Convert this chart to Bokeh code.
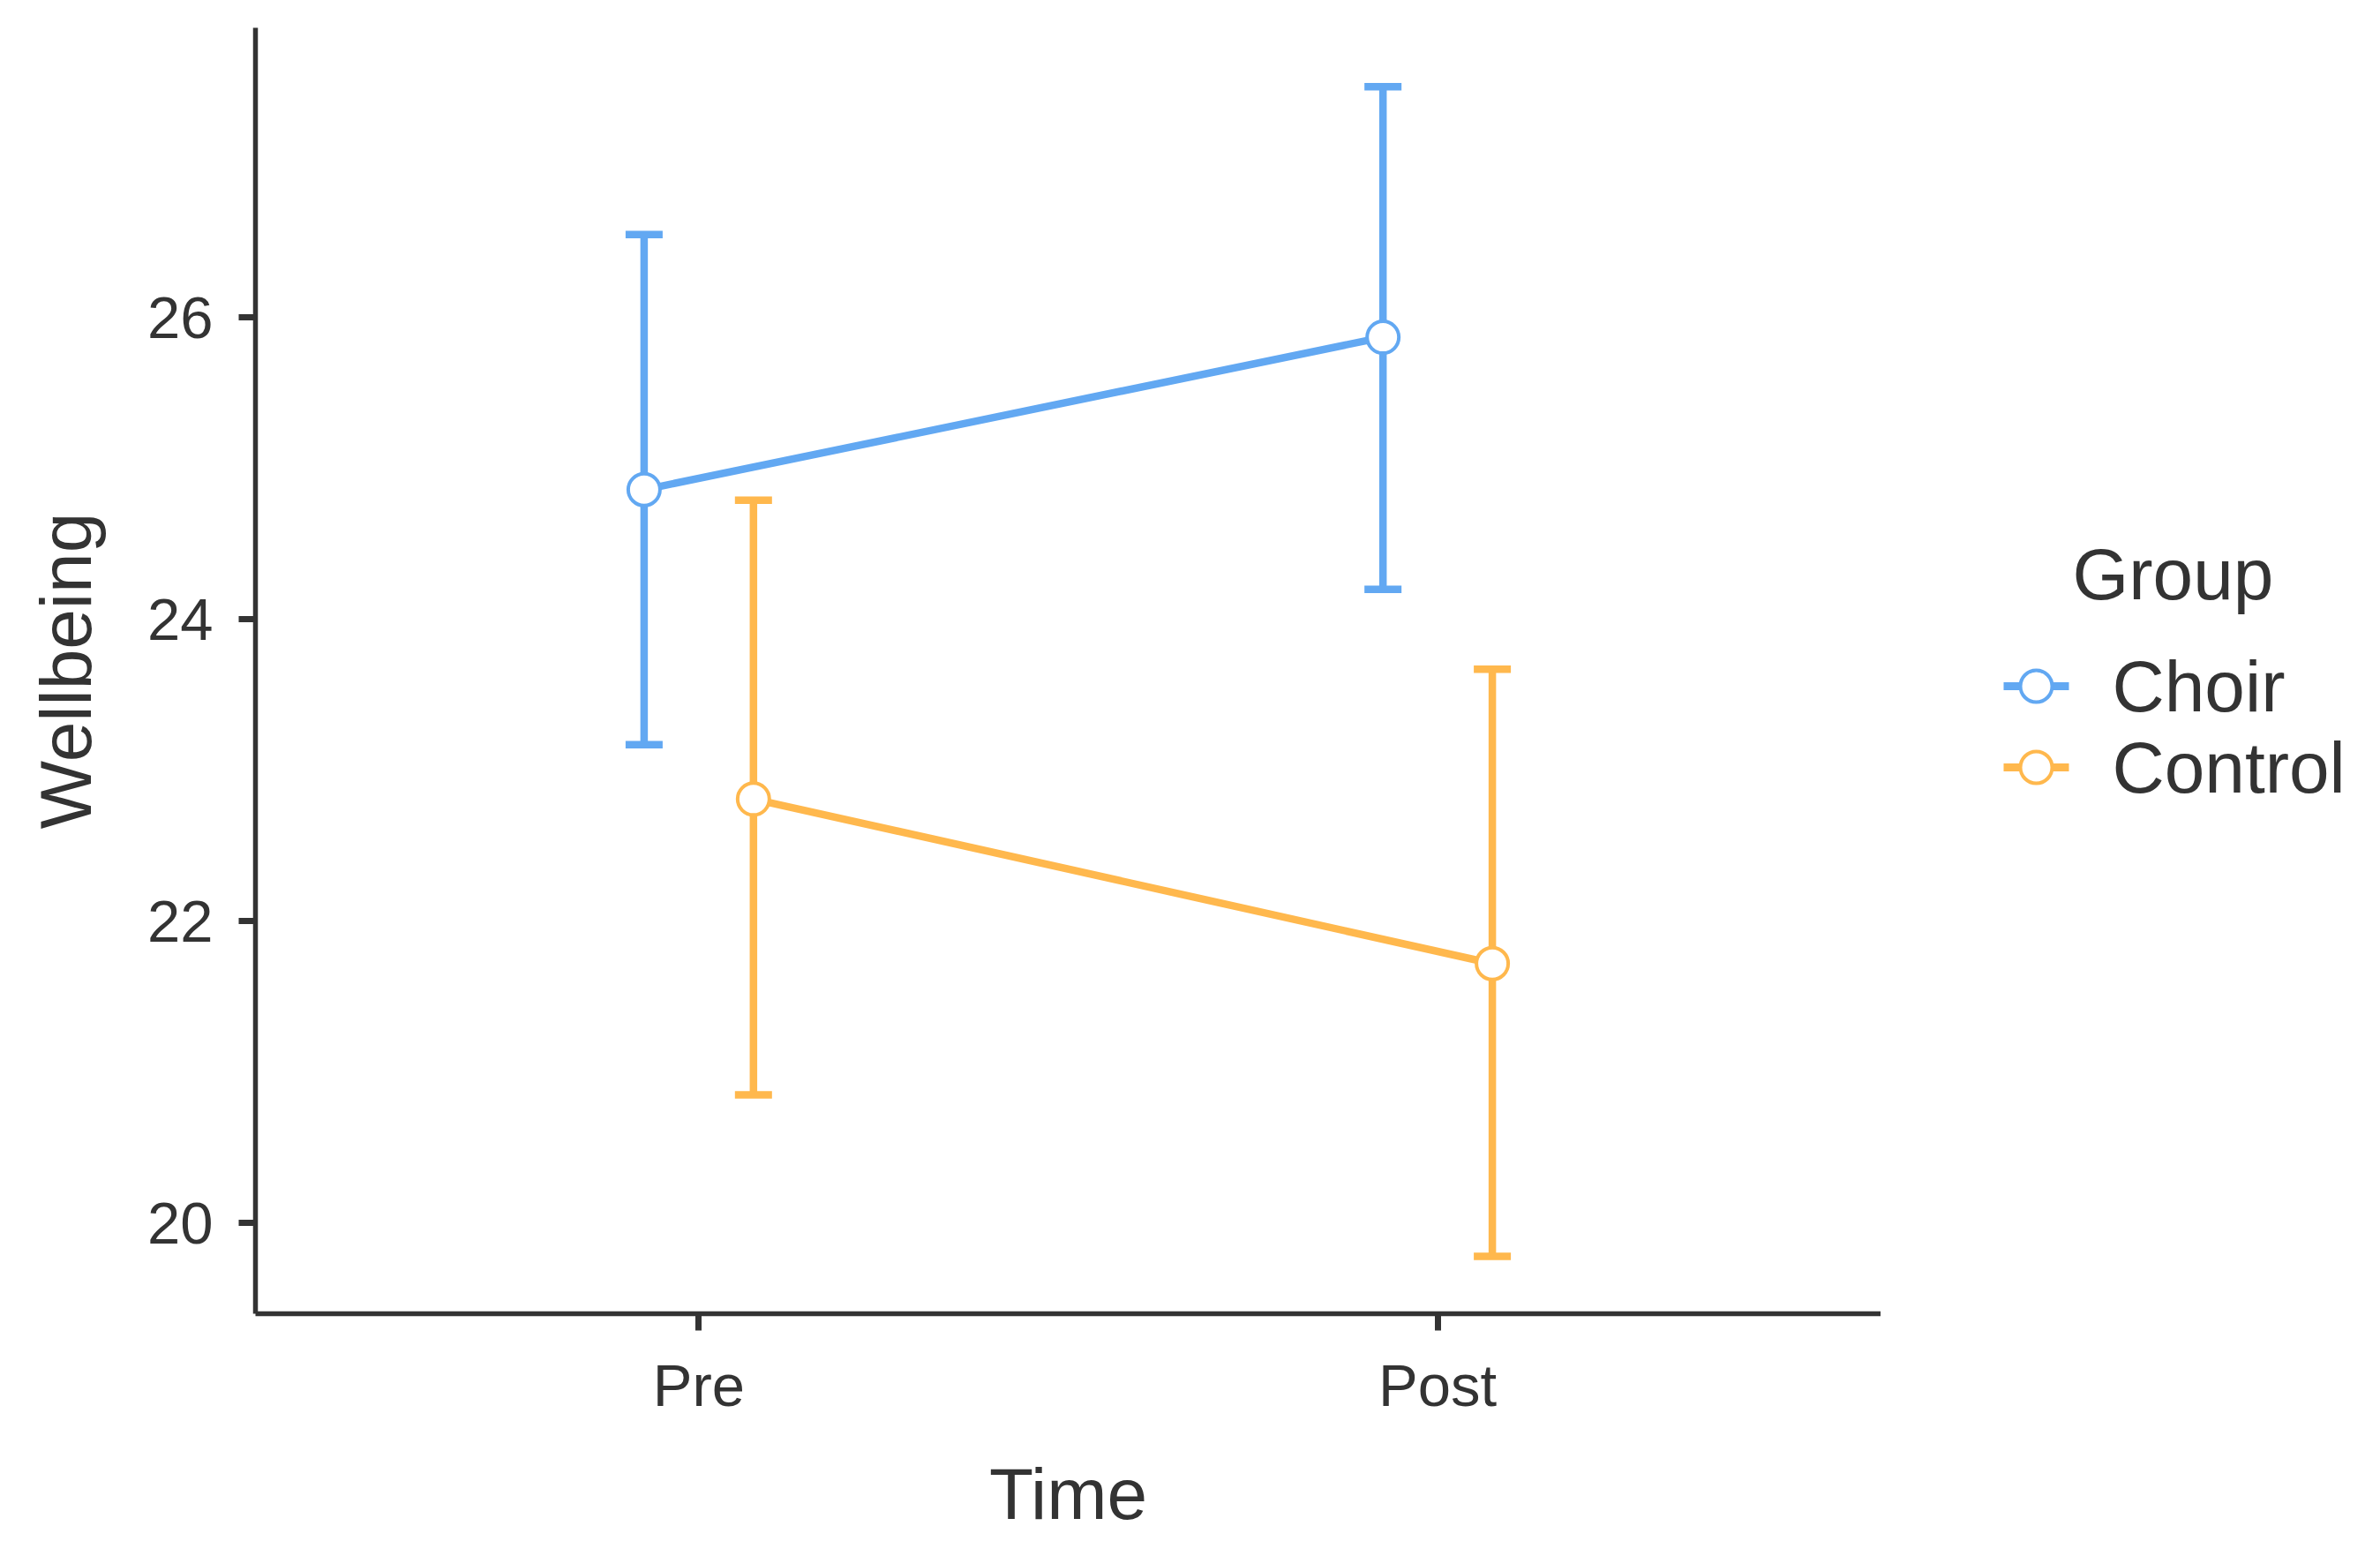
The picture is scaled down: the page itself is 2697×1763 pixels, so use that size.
from bokeh.plotting import figure
from bokeh.layouts import row
from bokeh.models import (Range1d, FixedTicker, Whisker, TeeHead, ColumnDataSource)
from bokeh.core.properties import value
from bokeh.embed import file_html
from bokeh.resources import INLINE

# ---- data ----
time_labels = ["Pre", "Post"]
time_pos = [1, 2]
groups = ["Choir", "Control"]
choir_mean = [24.86, 25.87]
choir_lower = [23.17, 24.20]
choir_upper = [26.55, 27.53]
control_mean = [22.81, 21.72]
control_lower = [20.85, 19.78]
control_upper = [24.79, 23.67]
y_ticks = [20, 22, 24, 26]
x_title = "Time"
y_title = "Wellbeing"
legend_title = "Group"

# ---- style ----
colors = {"Choir": "#62A8F2", "Control": "#FFB84D"}
dodge = {"Choir": -0.074, "Control": 0.074}
FONT = "Liberation Sans"
TXT = "#333333"
LW = 8.5

H = 1750
FL, FT = 289, 31
FW, FH = 1842, 1457
W = FL + FW

p = figure(width=W, height=H, output_backend="svg", toolbar_location=None,
           x_range=Range1d(0.4, 2.6), y_range=Range1d(19.40, 27.92),
           min_border_left=FL, min_border_top=FT,
           min_border_right=0, min_border_bottom=H - FT - FH)
p.outline_line_color = None
p.xgrid.visible = False
p.ygrid.visible = False

for ax in (p.xaxis[0], p.yaxis[0]):
    ax.axis_line_color = TXT
    ax.axis_line_width = 5.5
    ax.major_tick_line_color = TXT
    ax.major_tick_line_width = 7
    ax.major_tick_in = 0
    ax.major_tick_out = 19
    ax.minor_tick_line_color = None
    ax.major_label_text_font = FONT
    ax.major_label_text_font_size = "67px"
    ax.major_label_text_color = TXT
    ax.axis_label_text_font = FONT
    ax.axis_label_text_font_size = "82px"
    ax.axis_label_text_color = TXT
    ax.axis_label_text_font_style = "normal"

p.xaxis.ticker = FixedTicker(ticks=time_pos)
p.xaxis.major_label_overrides = dict(zip(time_pos, time_labels))
p.xaxis.axis_label = x_title
p.xaxis.major_label_standoff = 24
p.xaxis.axis_label_standoff = 37

p.yaxis.ticker = FixedTicker(ticks=y_ticks)
p.yaxis.axis_label = y_title
p.yaxis.major_label_standoff = 29
p.yaxis.axis_label_standoff = 44

series = {
    "Choir": (choir_mean, choir_lower, choir_upper),
    "Control": (control_mean, control_lower, control_upper),
}

for g in groups:
    mean, lo, hi = series[g]
    xs = [t + dodge[g] for t in time_pos]
    src = ColumnDataSource(dict(x=xs, mean=mean, lower=lo, upper=hi))
    c = colors[g]
    wh = Whisker(base="x", upper="upper", lower="lower", source=src, dimension="height",
                 line_color=c, line_width=LW, level="underlay",
                 upper_head=TeeHead(size=42, line_color=c, line_width=LW),
                 lower_head=TeeHead(size=42, line_color=c, line_width=LW))
    p.add_layout(wh)
    p.line("x", "mean", source=src, line_color=c, line_width=LW)
    p.scatter("x", "mean", source=src, marker="circle", size=36,
              fill_color="white", line_color=c, line_width=4)

# ---- legend panel (separate figure; its frame matches the main frame vertically,
#      data units = page pixels) ----
LWID = 560
leg = figure(width=LWID, height=H, output_backend="svg", toolbar_location=None,
             x_range=Range1d(0, LWID), y_range=Range1d(FT + FH, FT),
             x_axis_location=None, y_axis_location=None,
             min_border_left=0, min_border_right=0,
             min_border_top=FT, min_border_bottom=H - FT - FH,
             outline_line_color=None)
leg.xgrid.visible = False
leg.ygrid.visible = False

key_x0, key_x1 = 139, 213
label_x = 262
title_x, title_y = 217, 650
row_y0, row_step = 777, 92

key_y = [row_y0 + i * row_step for i in range(len(groups))]
key_colors = [colors[g] for g in groups]
leg.segment(x0=[key_x0] * len(groups), x1=[key_x1] * len(groups), y0=key_y, y1=key_y,
            line_color=key_colors, line_width=9)
leg.scatter(x=[(key_x0 + key_x1) / 2] * len(groups), y=key_y, marker="circle", size=36,
            fill_color="white", line_color=key_colors, line_width=4)
leg.text(x=[label_x] * len(groups), y=key_y, text=groups, text_font=value(FONT),
         text_font_size="82px", text_color=TXT, text_baseline="middle", text_align="left")
leg.text(x=[title_x], y=[title_y], text=[legend_title], text_font=value(FONT),
         text_font_size="82px", text_color=TXT, text_baseline="middle", text_align="left")

layout = row(p, leg)
open("out.html", "w").write(file_html(layout, INLINE))
